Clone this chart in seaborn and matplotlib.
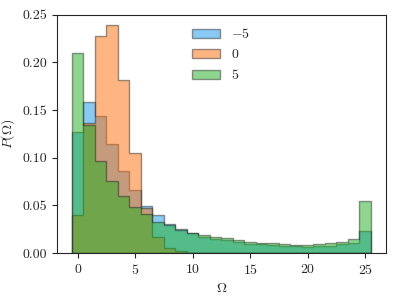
import numpy as np
import pandas as pd
import matplotlib
matplotlib.use("Agg")
import matplotlib.pyplot as plt
import seaborn as sns

# bin centres (unit-width bins) and the normalised histogram heights
omega = list(range(26))

p_minus5 = [0.127, 0.159, 0.144, 0.1145, 0.0865, 0.066, 0.0497, 0.040, 0.030, 0.025,
            0.021, 0.0165, 0.0150, 0.0135, 0.0118, 0.0100, 0.0090, 0.0084, 0.0077, 0.0072,
            0.0068, 0.0071, 0.0078, 0.0093, 0.0105, 0.0231]
p_zero = [0.040, 0.136, 0.228, 0.239, 0.182, 0.105, 0.047, 0.017, 0.0056, 0.002,
          0.0, 0.0, 0.0, 0.0, 0.0, 0.0, 0.0, 0.0, 0.0, 0.0,
          0.0, 0.0, 0.0, 0.0, 0.0, 0.0]
p_plus5 = [0.210, 0.134, 0.097, 0.076, 0.060, 0.0486, 0.0406, 0.033, 0.029, 0.024,
           0.021, 0.019, 0.0165, 0.0154, 0.0137, 0.0120, 0.0108, 0.0101, 0.0091, 0.0084,
           0.0084, 0.0091, 0.0102, 0.0119, 0.0144, 0.055]

labels = [r"$-5$", r"$0$", r"$5$"]
colors = ["#1496eb", "#ff6d05", "#1eaf1e"]

sns.set_style("ticks")
plt.rcParams["font.family"] = "serif"
plt.rcParams["font.serif"] = ["cmr10", "DejaVu Serif"]
plt.rcParams["mathtext.fontset"] = "cm"
plt.rcParams["axes.formatter.use_mathtext"] = True
plt.rcParams["font.size"] = 10

df = pd.DataFrame({"omega": omega, "m5": p_minus5, "z": p_zero, "p5": p_plus5})

fig = plt.figure(figsize=(3.99, 2.97), dpi=100)
ax = fig.add_axes([0.143, 0.148, 0.824, 0.802])

for col, lab, c in zip(["m5", "z", "p5"], labels, colors):
    sns.histplot(data=df, x="omega", weights=col, binwidth=1, binrange=(-0.5, 25.5),
                 element="step", fill=True, color=c, alpha=0.5,
                 edgecolor=(0.1, 0.1, 0.1, 0.45), linewidth=1.0, label=lab, ax=ax)

ax.set_ylim(0, 0.25)
ax.set_yticks([0, 0.05, 0.10, 0.15, 0.20, 0.25])
ax.set_yticklabels(["0.00", "0.05", "0.10", "0.15", "0.20", "0.25"])
ax.set_xticks([0, 5, 10, 15, 20, 25])
ax.set_xlabel(r"$\Omega$")
ax.set_ylabel(r"$P(\Omega)$")
ax.legend(loc="upper center", frameon=False, fontsize=10)

fig.savefig("out.png", dpi=100)
